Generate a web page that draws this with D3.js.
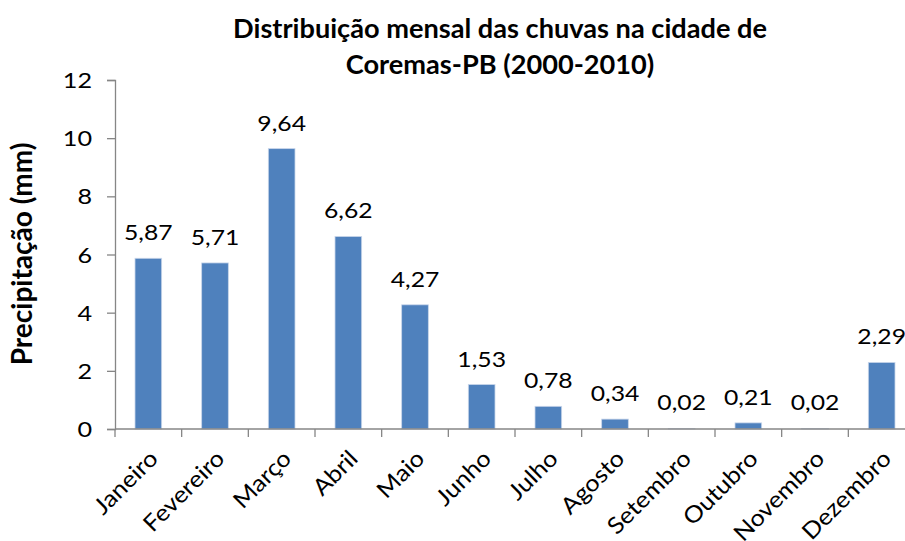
<!DOCTYPE html>
<html><head><meta charset="utf-8">
<script src="https://cdn.jsdelivr.net/npm/d3@7"></script>
<style>body{margin:0;background:#fff}svg{display:block;font-family:Lato,"Open Sans",sans-serif}</style>
</head><body><svg id="c" width="905" height="541"></svg>
<script>
const months = ["Janeiro","Fevereiro","Março","Abril","Maio","Junho","Julho","Agosto","Setembro","Outubro","Novembro","Dezembro"];
const values = [5.87,5.71,9.64,6.62,4.27,1.53,0.78,0.34,0.02,0.21,0.02,2.29];
const yTicks = [0,2,4,6,8,10,12];
const titleLines = ["Distribuição mensal das chuvas na cidade de","Coremas-PB (2000-2010)"];
const yTitle = "Precipitação (mm)";

const FONT = "Lato,'Open Sans',sans-serif";
const svg = d3.select("#c");
const mLeft = 115, mRight = 915, mTop = 80, mBottom = 429;
const x = d3.scaleBand().domain(months).range([mLeft, mRight]).paddingInner(0.6).paddingOuter(0.3);
const y = d3.scaleLinear().domain([0,12]).range([mBottom, mTop]);
const fmt = v => v.toFixed(2).replace(".", ",");
const axisColor = "#868686";

// y axis
const ya = svg.append("g").attr("transform",`translate(${mLeft},0)`)
  .call(d3.axisLeft(y).tickValues(yTicks).tickSize(8).tickPadding(15).tickFormat(d=>d));
ya.select(".domain").attr("stroke",axisColor).attr("stroke-width",1.3);
ya.selectAll(".tick line").attr("stroke",axisColor).attr("stroke-width",1.3);
ya.selectAll(".tick text").attr("font-size",21).attr("fill","#000").attr("font-family",FONT)
  .attr("x",0).attr("dy","0.36em").attr("transform","translate(-23,0) scale(1.2,1)");

// bars
svg.append("g").selectAll("rect").data(values).join("rect")
  .attr("x",(d,i)=>x(months[i]))
  .attr("width",x.bandwidth())
  .attr("y",d=>y(d))
  .attr("height",d=>mBottom-y(d))
  .attr("fill","#4F81BD")
  .attr("stroke","#C9D6EA").attr("stroke-width",0.8);

// x axis
const xb = d3.scaleLinear().domain([0,12]).range([mLeft,mRight]);
const xa = svg.append("g").attr("transform",`translate(0,${mBottom})`);
xa.append("line").attr("x1",mLeft).attr("x2",mRight).attr("stroke",axisColor).attr("stroke-width",1.3);
xa.selectAll(".t").data(d3.range(0,13)).join("line").attr("class","t")
  .attr("x1",d=>xb(d)).attr("x2",d=>xb(d)).attr("y1",0).attr("y2",8)
  .attr("stroke",axisColor).attr("stroke-width",1.3);
xa.selectAll("text").data(months).join("text")
  .attr("transform",d=>`translate(${x(d)+x.bandwidth()/2+11},${31}) rotate(-45) scale(1.1,1)`)
  .attr("text-anchor","end").attr("font-size",23).attr("fill","#000").text(d=>d);

// value labels
svg.append("g").selectAll("text").data(values).join("text")
  .attr("transform",(d,i)=>`translate(${x(months[i])+x.bandwidth()/2},${y(d)-18}) scale(1.15,1)`)
  .attr("text-anchor","middle").attr("font-size",21.5).attr("fill","#000")
  .text(fmt);

// title
svg.append("g").selectAll("text").data(titleLines).join("text")
  .attr("transform",(d,i)=>`translate(500,${38+i*36}) scale(1.045,1)`)
  .attr("text-anchor","middle").attr("font-size",26).attr("font-weight","bold").attr("fill","#000")
  .text(d=>d);

// y title
svg.append("text").attr("transform",`translate(32,254) rotate(-90)`)
  .attr("text-anchor","middle").attr("font-size",28).attr("font-weight","bold").attr("fill","#000")
  .text(yTitle);
</script></body></html>
